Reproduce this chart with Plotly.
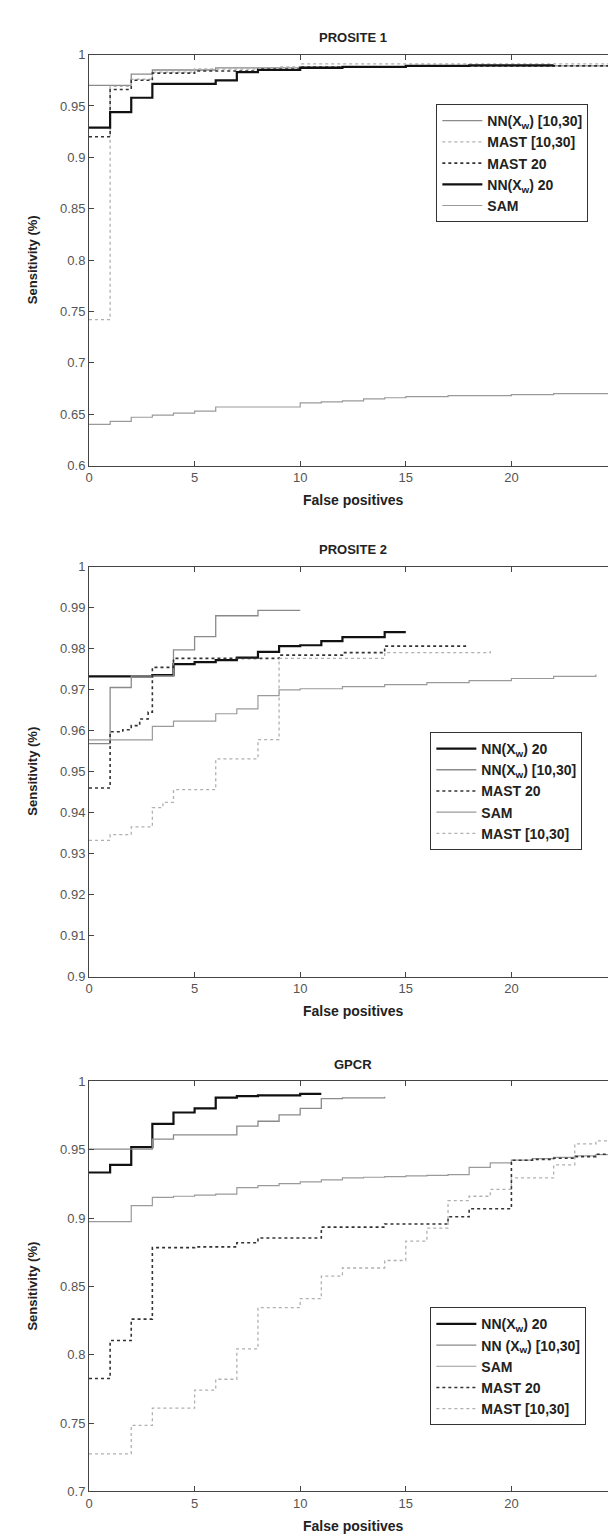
import plotly.graph_objects as go

# ---------------- DATA ----------------
X_TICKS = [0, 5, 10, 15, 20, 25]
X_TICK_TEXT = ["0", "5", "10", "15", "20", "25"]

P1_Y_TICKS = [0.6, 0.65, 0.7, 0.75, 0.8, 0.85, 0.9, 0.95, 1.0]
P1_Y_TEXT = ["0.6", "0.65", "0.7", "0.75", "0.8", "0.85", "0.9", "0.95", "1"]
P2_Y_TICKS = [0.9, 0.91, 0.92, 0.93, 0.94, 0.95, 0.96, 0.97, 0.98, 0.99, 1.0]
P2_Y_TEXT = ["0.9", "0.91", "0.92", "0.93", "0.94", "0.95", "0.96", "0.97", "0.98", "0.99", "1"]
P3_Y_TICKS = [0.7, 0.75, 0.8, 0.85, 0.9, 0.95, 1.0]
P3_Y_TEXT = ["0.7", "0.75", "0.8", "0.85", "0.9", "0.95", "1"]

TITLES = ["PROSITE 1", "PROSITE 2", "GPCR"]

# PROSITE 1
P1_NN1030_x = [0, 2, 3, 6, 10, 15, 25]
P1_NN1030_y = [0.970, 0.981, 0.985, 0.987, 0.988, 0.989, 0.989]
P1_MAST1030_x = [0, 1, 2, 3, 5, 9, 10, 25]
P1_MAST1030_y = [0.742, 0.969, 0.976, 0.983, 0.986, 0.988, 0.991, 0.991]
P1_MAST20_x = [0, 1, 2, 3, 5, 8, 10, 15, 25]
P1_MAST20_y = [0.920, 0.966, 0.975, 0.982, 0.984, 0.986, 0.988, 0.989, 0.989]
P1_NN20_x = [0, 1, 2, 3, 6, 7, 8, 10, 12, 15, 18, 22]
P1_NN20_y = [0.929, 0.944, 0.958, 0.9715, 0.975, 0.983, 0.985, 0.987, 0.988, 0.989, 0.9895, 0.990]
P1_SAM_x = [0, 1, 2, 3, 4, 5, 6, 7, 8, 9, 10, 11, 12, 13, 14, 15, 17, 20, 22, 25]
P1_SAM_y = [0.640, 0.643, 0.647, 0.649, 0.651, 0.653, 0.657, 0.657, 0.657, 0.657,
            0.661, 0.662, 0.663, 0.665, 0.666, 0.667, 0.668, 0.669, 0.670, 0.671]

# PROSITE 2
P2_NN20_x = [0, 3, 4, 5, 6, 7, 8, 9, 10, 11, 12, 14, 15]
P2_NN20_y = [0.9732, 0.9735, 0.9762, 0.9767, 0.9772, 0.9778, 0.9792, 0.9806, 0.9808,
             0.9818, 0.9828, 0.9840, 0.9840]
P2_NN1030_x = [0, 1, 2, 4, 5, 6, 8, 10]
P2_NN1030_y = [0.9568, 0.9705, 0.9733, 0.9797, 0.9829, 0.9880, 0.9893, 0.9893]
P2_MAST20_x = [0, 1, 1.6, 2, 2.4, 2.8, 3, 4, 9, 12, 14, 18]
P2_MAST20_y = [0.946, 0.9597, 0.9602, 0.9612, 0.9628, 0.9645, 0.9754, 0.9776, 0.9784,
               0.9790, 0.9806, 0.9806]
P2_SAM_x = [0, 3, 4, 6, 7, 8, 9, 10, 12, 14, 16, 18, 20, 22, 24]
P2_SAM_y = [0.9577, 0.9610, 0.9623, 0.9641, 0.9653, 0.9685, 0.9699, 0.9702, 0.9707,
            0.9712, 0.9717, 0.9722, 0.9727, 0.9732, 0.9737]
P2_MAST1030_x = [0, 1, 2, 3, 3.5, 4, 6, 8, 9, 14, 19]
P2_MAST1030_y = [0.9332, 0.9346, 0.9365, 0.9412, 0.9425, 0.9456, 0.9531, 0.9578, 0.9776,
                 0.9790, 0.9794]

# GPCR
P3_NN20_x = [0, 1, 2, 3, 4, 5, 6, 7, 8, 10, 11]
P3_NN20_y = [0.9334, 0.9389, 0.9519, 0.969, 0.9773, 0.9803, 0.9882, 0.9893, 0.9898, 0.991, 0.991]
P3_NN1030_x = [0, 3, 4, 7, 8, 9, 10, 11, 12, 14]
P3_NN1030_y = [0.9505, 0.9578, 0.9609, 0.9673, 0.9709, 0.9756, 0.9803, 0.9874, 0.988, 0.9888]
P3_SAM_x = [0, 2, 3, 4, 5, 6, 7, 8, 9, 10, 11, 12, 13, 14, 15, 16, 17, 18, 19, 20,
            21, 22, 23, 24, 25]
P3_SAM_y = [0.8974, 0.9092, 0.9152, 0.9160, 0.9168, 0.9176, 0.9223, 0.9238, 0.9252,
            0.9266, 0.9280, 0.9294, 0.9299, 0.9304, 0.9309, 0.9313, 0.9318, 0.9372,
            0.9405, 0.9424, 0.9435, 0.9445, 0.9455, 0.9465, 0.9475]
P3_MAST20_x = [0, 1, 2, 3, 5, 7, 8, 11, 14, 17, 18, 20, 21, 22, 23, 24, 25]
P3_MAST20_y = [0.7826, 0.8104, 0.8261, 0.8784, 0.8790, 0.8820, 0.8855, 0.8934, 0.8957,
               0.9010, 0.9069, 0.9424, 0.9430, 0.9438, 0.9450, 0.9467, 0.9483]
P3_MAST1030_x = [0, 2, 3, 5, 6, 7, 8, 10, 11, 12, 14, 15, 16, 17, 18, 19, 20, 22, 23, 24, 25]
P3_MAST1030_y = [0.7275, 0.7483, 0.7609, 0.7742, 0.7821, 0.8043, 0.8345, 0.8411, 0.8575,
                 0.8635, 0.8690, 0.8832, 0.8927, 0.9128, 0.9160, 0.9211, 0.9294, 0.9389,
                 0.9543, 0.9566, 0.9566]

LBL_NN1030 = "NN(X<sub>w</sub>) [10,30]"
LBL_NN1030_B = "NN (X<sub>w</sub>) [10,30]"
LBL_NN20 = "NN(X<sub>w</sub>) 20"
LBL_MAST1030 = "MAST [10,30]"
LBL_MAST20 = "MAST 20"
LBL_SAM = "SAM"

# ---------------- STYLE ----------------
FONT = "Liberation Sans, Arial, sans-serif"
STY = {
    "NN20": dict(color="#111111", width=2.2),
    "NN1030": dict(color="#8a8a8a", width=1.3),
    "SAM": dict(color="#9a9a9a", width=1.2),
    "MAST20": dict(color="#333333", width=1.6, dash="dot"),
    "MAST1030": dict(color="#b0b0b0", width=1.3, dash="dot"),
}

W, H = 616, 1536
ML, MR = 81, 6
PW = W - ML - MR

# plot area pixel bounds (top, bottom) per panel
PANELS_PX = [(40, 455), (557, 971), (1077, 1491)]


def py(p):
    return 1 - p / H


def px(p):
    return (p - ML) / PW


fig = go.Figure()

panel_traces = [
    [("NN1030", P1_NN1030_x, P1_NN1030_y, LBL_NN1030),
     ("MAST1030", P1_MAST1030_x, P1_MAST1030_y, LBL_MAST1030),
     ("MAST20", P1_MAST20_x, P1_MAST20_y, LBL_MAST20),
     ("NN20", P1_NN20_x, P1_NN20_y, LBL_NN20),
     ("SAM", P1_SAM_x, P1_SAM_y, LBL_SAM)],
    [("NN20", P2_NN20_x, P2_NN20_y, LBL_NN20),
     ("NN1030", P2_NN1030_x, P2_NN1030_y, LBL_NN1030),
     ("MAST20", P2_MAST20_x, P2_MAST20_y, LBL_MAST20),
     ("SAM", P2_SAM_x, P2_SAM_y, LBL_SAM),
     ("MAST1030", P2_MAST1030_x, P2_MAST1030_y, LBL_MAST1030)],
    [("NN20", P3_NN20_x, P3_NN20_y, LBL_NN20),
     ("NN1030", P3_NN1030_x, P3_NN1030_y, LBL_NN1030_B),
     ("SAM", P3_SAM_x, P3_SAM_y, LBL_SAM),
     ("MAST20", P3_MAST20_x, P3_MAST20_y, LBL_MAST20),
     ("MAST1030", P3_MAST1030_x, P3_MAST1030_y, LBL_MAST1030)],
]

y_ticks = [(P1_Y_TICKS, P1_Y_TEXT, [0.6, 1.0]),
           (P2_Y_TICKS, P2_Y_TEXT, [0.9, 1.0]),
           (P3_Y_TICKS, P3_Y_TEXT, [0.7, 1.0])]

# legend boxes top-left pixel
LEG_PX = [(429, 90), (423, 724), (423, 1305)]

layout = dict(
    width=W, height=H,
    margin=dict(l=ML, r=MR, t=0, b=0),
    paper_bgcolor="white", plot_bgcolor="white",
    font=dict(family=FONT, size=13, color="#333"),
    showlegend=True,
)
annotations = []
BOLD = dict(size=13, family=FONT, color="#222", weight="bold")

for i, traces in enumerate(panel_traces):
    n = "" if i == 0 else str(i + 1)
    leg = "legend" if i == 0 else f"legend{i + 1}"
    for key, xs, ys, name in traces:
        fig.add_trace(go.Scatter(
            x=xs, y=ys, mode="lines", name=name, line=dict(shape="hv", **STY[key]),
            xaxis=f"x{n}", yaxis=f"y{n}", legend=leg,
        ))
    top, bot = PANELS_PX[i]
    tv, tt, rng = y_ticks[i]
    common = dict(showline=True, linecolor="#444", linewidth=1, mirror="ticks",
                  ticks="inside", ticklen=5, tickcolor="#444", showgrid=False,
                  zeroline=False, ticklabeloverflow="allow",
                  tickfont=dict(size=13, color="#555", family=FONT))
    layout[f"xaxis{n}"] = dict(domain=[0, 1], range=[0, 25], tickvals=X_TICKS,
                               ticktext=X_TICK_TEXT, anchor=f"y{n}", **common)
    layout[f"yaxis{n}"] = dict(domain=[py(bot), py(top)], range=rng, tickvals=tv,
                               ticktext=tt, anchor=f"x{n}", **common)
    lx, ly = LEG_PX[i]
    layout[leg] = dict(x=px(lx), y=py(ly), xanchor="left", yanchor="top",
                       bordercolor="#333", borderwidth=1, bgcolor="white",
                       font=dict(size=14, family=FONT, color="#222", weight="bold"),
                       itemwidth=40, tracegroupgap=0)
    annotations.append(dict(text=TITLES[i], x=0.5, y=py(top - 17), xref="paper",
                            yref="paper", showarrow=False, xanchor="center",
                            yanchor="middle", font=BOLD))
    annotations.append(dict(text="False positives", x=0.5, y=py(bot + 35), xref="paper",
                            yref="paper", showarrow=False, xanchor="center",
                            yanchor="middle", font=dict(BOLD, size=14)))
    annotations.append(dict(text="Sensitivity (%)", x=px(24), y=py((top + bot) / 2),
                            xref="paper", yref="paper", showarrow=False,
                            xanchor="center", yanchor="middle", textangle=-90,
                            font=BOLD))

layout["annotations"] = annotations
fig.update_layout(**layout)
fig.write_html("out.html")
